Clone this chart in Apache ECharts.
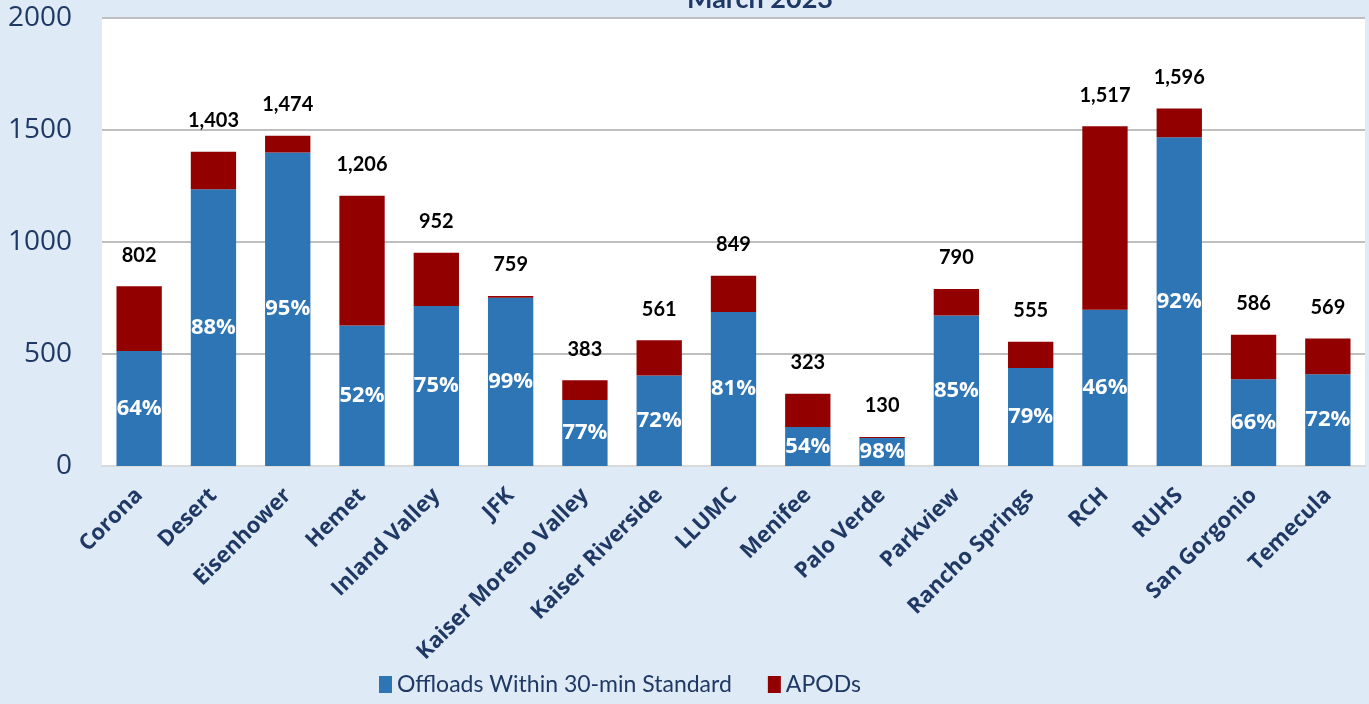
<!DOCTYPE html>
<html>
<head>
<meta charset="utf-8">
<script src="https://cdn.jsdelivr.net/npm/echarts@6/dist/echarts.min.js"></script>
<style>
  html, body { margin: 0; padding: 0; background: #deeaf6; }
  #main { width: 1369px; height: 704px; }
</style>
</head>
<body>
<div id="main"></div>
<script>
  // hospitals
  const categories = ['Corona', 'Desert', 'Eisenhower', 'Hemet', 'Inland Valley', 'JFK',
    'Kaiser Moreno Valley', 'Kaiser Riverside', 'LLUMC', 'Menifee', 'Palo Verde', 'Parkview',
    'Rancho Springs', 'RCH', 'RUHS', 'San Gorgonio', 'Temecula'];
  // totals shown above bars
  const totals = [802, 1403, 1474, 1206, 952, 759, 383, 561, 849, 323, 130, 790, 555, 1517, 1596, 586, 569];
  // percent within 30 min standard
  const pctWithin = [64, 88, 95, 52, 75, 99, 77, 72, 81, 54, 98, 85, 79, 46, 92, 66, 72];
  // offloads within standard (blue) / APODs (red)
  const within = [513, 1235, 1400, 627, 714, 751, 295, 404, 688, 174, 125, 672, 438, 698, 1468, 387, 410];
  const apods = [289, 168, 74, 579, 238, 8, 88, 157, 161, 149, 5, 118, 117, 819, 128, 199, 159];
  const yTicks = [0, 500, 1000, 1500, 2000];

  const navy = '#1f3864';
  const fontFam = 'Lato, "Open Sans", sans-serif';
  const chart = echarts.init(document.getElementById('main'));
  chart.setOption({
    backgroundColor: '#deeaf6',
    title: {
      text: 'March 2023',
      left: 755,
      top: -19,
      textAlign: 'center',
      textStyle: { color: navy, fontSize: 27, fontWeight: 'bold', fontFamily: fontFam }
    },
    legend: {
      bottom: 3,
      left: 374,
      itemWidth: 13,
      itemHeight: 17,
      itemGap: 36,
      icon: 'rect',
      textStyle: { color: navy, fontSize: 23, fontFamily: fontFam },
      data: ['Offloads Within 30-min Standard', 'APODs']
    },
    grid: {
      left: 102, right: 4, top: 18, bottom: 238,
      show: true, backgroundColor: '#ffffff', borderWidth: 0
    },
    xAxis: {
      type: 'category',
      data: categories,
      axisLine: { lineStyle: { color: '#d9d9d9', width: 2 } },
      axisTick: { show: false },
      axisLabel: {
        interval: 0,
        rotate: 45,
        margin: 26,
        color: navy,
        fontSize: 22,
        fontWeight: 'bold',
        fontFamily: '"Open Sans", sans-serif'
      }
    },
    yAxis: {
      type: 'value',
      min: yTicks[0],
      max: yTicks[yTicks.length - 1],
      interval: 500,
      axisLine: { show: false },
      axisTick: { show: false },
      splitLine: { lineStyle: { color: '#bfbfbf', width: 2 } },
      axisLabel: {
        color: navy, fontSize: 28, margin: 30, fontFamily: '"Open Sans", sans-serif',
        formatter: v => String(v)
      }
    },
    series: [
      {
        name: 'Offloads Within 30-min Standard',
        type: 'bar',
        stack: 'total',
        barWidth: '61%',
        itemStyle: { color: '#2e75b6' },
        label: {
          show: true,
          position: 'inside',
          color: '#ffffff',
          fontSize: 22,
          fontWeight: 'bold',
          fontFamily: '"Open Sans", sans-serif',
          formatter: p => pctWithin[p.dataIndex] + '%'
        },
        data: within
      },
      {
        name: 'APODs',
        type: 'bar',
        stack: 'total',
        itemStyle: { color: '#920000' },
        label: {
          show: true,
          position: 'top',
          distance: 21,
          color: '#000000',
          fontSize: 20,
          fontWeight: 'bold',
          fontFamily: fontFam,
          formatter: p => totals[p.dataIndex].toLocaleString('en-US')
        },
        data: apods
      }
    ]
  });
</script>
</body>
</html>
